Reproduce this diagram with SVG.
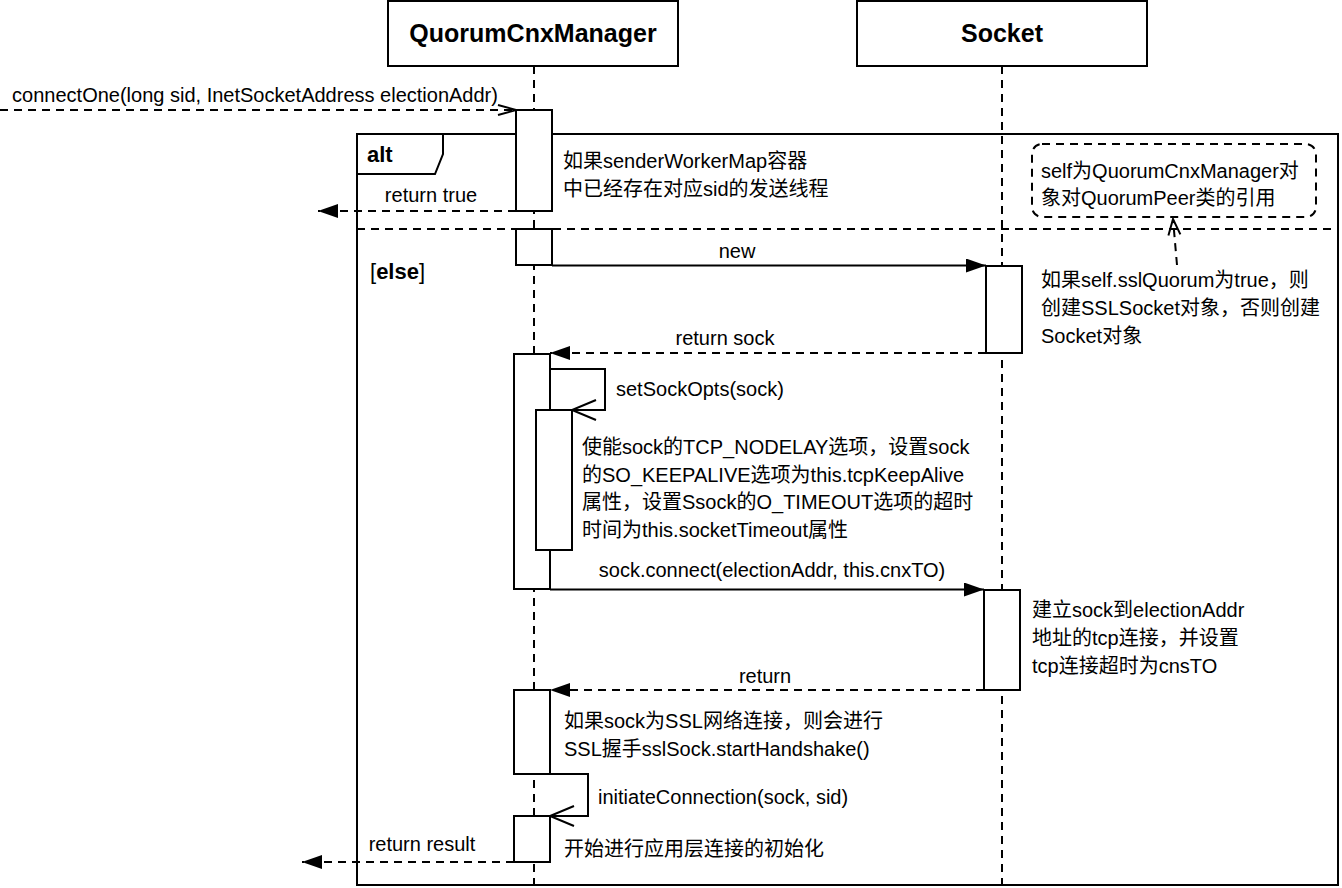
<svg xmlns="http://www.w3.org/2000/svg" width="1342" height="888" viewBox="0 0 1342 888">
<style>
text{font-family:"Liberation Sans","Noto Sans CJK SC",sans-serif;font-size:20px;fill:#000}
.head{font-size:25px;font-weight:bold;text-anchor:middle}
.mid{text-anchor:middle}
.b{font-weight:bold;font-size:22px}
.box{fill:#fff;stroke:#000;stroke-width:2}
.life{stroke:#000;stroke-width:2;stroke-dasharray:8 6;fill:none}
.frame{fill:none;stroke:#000;stroke-width:2}
.sol{fill:none;stroke:#000;stroke-width:2}
.dash{fill:none;stroke:#000;stroke-width:2;stroke-dasharray:8 6}
</style>
<defs>
<marker id="fill" markerWidth="20" markerHeight="14" refX="20" refY="7" orient="auto" markerUnits="userSpaceOnUse"><path d="M0,0 L20,7 L0,14 Z" fill="#000"/></marker>
<marker id="open" markerWidth="22" markerHeight="14" refX="19" refY="6" orient="auto" markerUnits="userSpaceOnUse"><path d="M1,1 L19,6 L1,11" fill="none" stroke="#000" stroke-width="2"/></marker>
<marker id="openL" markerWidth="28" markerHeight="24" refX="25" refY="11" orient="auto" markerUnits="userSpaceOnUse"><path d="M1,1 L25,11 L1,21" fill="none" stroke="#000" stroke-width="2"/></marker>
<marker id="openS" markerWidth="20" markerHeight="16" refX="17" refY="7" orient="auto" markerUnits="userSpaceOnUse"><path d="M1,1 L17,7 L1,13" fill="none" stroke="#000" stroke-width="2"/></marker>
</defs>
<rect width="1342" height="888" fill="#fff"/>

<g id="alt-frame">
<rect class="frame" x="357" y="134" width="981" height="751"/>
<path class="frame" d="M357,174 H435 L443,154 V134"/>
<line class="dash" x1="357" y1="229" x2="1338" y2="229"/>
<text class="b" x="367" y="162">alt</text>
<text x="370" y="279" style="font-size:22px">[<tspan font-weight="bold">else</tspan>]</text>
</g>

<g id="QuorumCnxManager">
<rect class="box" x="388" y="1" width="290" height="65"/>
<text class="head" x="533" y="42">QuorumCnxManager</text>
<line class="life" x1="534" y1="66" x2="534" y2="888"/>
</g>

<g id="Socket">
<rect class="box" x="857" y="1" width="290" height="65"/>
<text class="head" x="1002" y="42">Socket</text>
<line class="life" x1="1002" y1="66" x2="1002" y2="888"/>
</g>

<g id="activations">
<rect id="act-q1" class="box" x="516" y="110" width="36" height="101"/>
<rect id="act-q2" class="box" x="516" y="229" width="36" height="36"/>
<rect id="act-q3" class="box" x="514" y="354" width="36" height="235"/>
<rect id="act-q3n" class="box" x="536" y="410" width="36" height="140"/>
<rect id="act-q4" class="box" x="514" y="690" width="36" height="84"/>
<rect id="act-q5" class="box" x="514" y="816" width="36" height="46"/>
<rect id="act-s1" class="box" x="986" y="266" width="36" height="87"/>
<rect id="act-s2" class="box" x="984" y="590" width="36" height="100"/>
</g>

<g id="connectors">
<path class="dash" d="M0,110 H516" marker-end="url(#open)"/>
<text class="mid" x="255" y="102">connectOne(long sid, InetSocketAddress electionAddr)</text>
<path class="dash" d="M516,211 H318" marker-end="url(#fill)"/>
<text class="mid" x="431" y="202">return true</text>
<path class="sol" d="M552,265.5 H986" marker-end="url(#fill)"/>
<text class="mid" x="737" y="258">new</text>
<path class="dash" d="M986,353 H550" marker-end="url(#fill)"/>
<text class="mid" x="725" y="345">return sock</text>
<path class="sol" d="M550,369 H605 V410 H572" marker-end="url(#openL)"/>
<text x="616" y="396">setSockOpts(sock)</text>
<path class="sol" d="M550,589.5 H984" marker-end="url(#fill)"/>
<text class="mid" x="772" y="577">sock.connect(electionAddr, this.cnxTO)</text>
<path class="dash" d="M984,690 H550" marker-end="url(#fill)"/>
<text class="mid" x="765" y="683">return</text>
<path class="sol" d="M550,774 H588 V816 H550" marker-end="url(#openL)"/>
<text x="598" y="804">initiateConnection(sock, sid)</text>
<path class="dash" d="M514,862 H302" marker-end="url(#fill)"/>
<text class="mid" x="422" y="851">return result</text>
<path class="dash" d="M1177,265 L1173,219" marker-end="url(#openS)"/>
</g>

<g id="note-sender">
<text x="563" y="168">如果senderWorkerMap容器</text>
<text x="563" y="196">中已经存在对应sid的发送线程</text>
</g>

<g id="note-self">
<rect x="1032" y="144" width="284" height="73" rx="10" ry="10" class="dash"/>
<text x="1041" y="178">self为QuorumCnxManager对</text>
<text x="1041" y="205">象对QuorumPeer类的引用</text>
</g>

<g id="note-ssl">
<text x="1041" y="287">如果self.sslQuorum为true，则</text>
<text x="1041" y="315">创建SSLSocket对象，否则创建</text>
<text x="1041" y="343">Socket对象</text>
</g>

<g id="note-opts">
<text x="582" y="454">使能sock的TCP_NODELAY选项，设置sock</text>
<text x="582" y="482">的SO_KEEPALIVE选项为this.tcpKeepAlive</text>
<text x="582" y="509">属性，设置Ssock的O_TIMEOUT选项的超时</text>
<text x="582" y="537">时间为this.socketTimeout属性</text>
</g>

<g id="note-connect">
<text x="1032" y="617">建立sock到electionAddr</text>
<text x="1032" y="645">地址的tcp连接，并设置</text>
<text x="1032" y="673">tcp连接超时为cnsTO</text>
</g>

<g id="note-handshake">
<text x="564" y="728">如果sock为SSL网络连接，则会进行</text>
<text x="564" y="756">SSL握手sslSock.startHandshake()</text>
</g>

<g id="note-init">
<text x="564" y="856">开始进行应用层连接的初始化</text>
</g>
</svg>
